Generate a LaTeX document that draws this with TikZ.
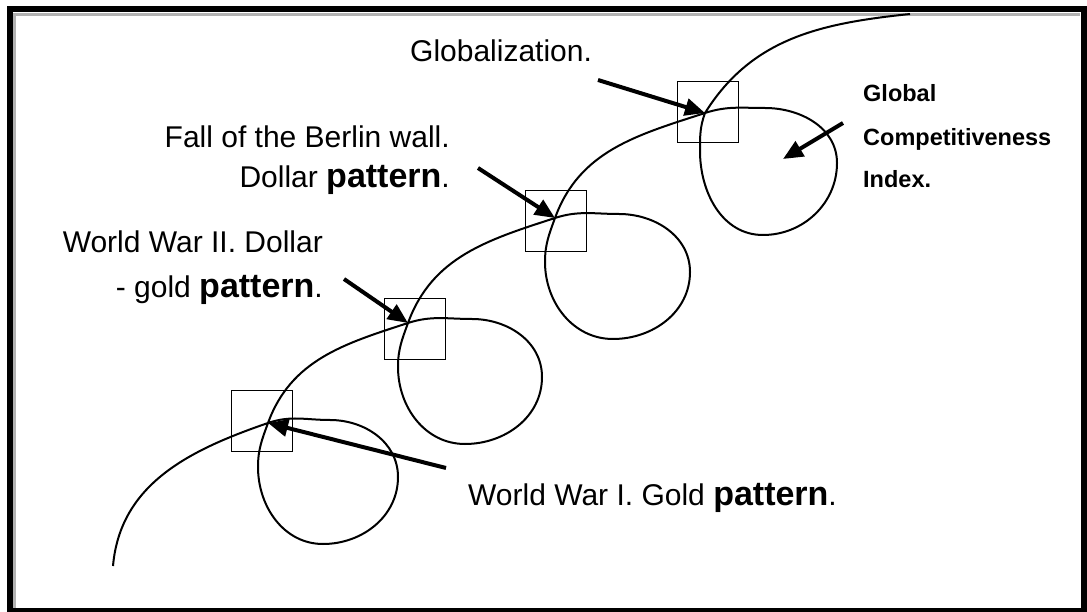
\documentclass[tikz,border=0pt]{standalone}
\usepackage{fontspec}
\setmainfont{Liberation Sans}
\usetikzlibrary{arrows.meta}

\newcommand{\patt}{{\fontsize{34}{40}\selectfont\bfseries pattern}}

\begin{document}
\begin{tikzpicture}[x=1pt,y=1pt]
  \tikzstyle{curve}=[line width=2pt]
  \tikzstyle{window}=[draw,line width=1.5pt,minimum size=61pt,inner sep=0pt]
  \tikzstyle{txt}=[inner sep=0pt,font=\fontsize{30}{36}\selectfont]
  \tikzstyle{index}=[inner sep=0pt,anchor=base west,font=\fontsize{23.5}{28}\selectfont\bfseries]
  \tikzstyle{pointer}=[line width=4pt,-{Triangle[length=20pt,width=17pt]}]
  \useasboundingbox (0,0) rectangle (1087,611);

  % frame
  \draw[line width=6pt] (9.5,601.5) rectangle (1084,0.5);
  \draw[black!30,line width=2.5pt] (14.5,3.5) -- (14.5,596.5) -- (1080,596.5);

  \coordinate (c1) at (268,188);
  \coordinate (c2) at (408,288);
  \coordinate (c3) at (555,393);
  \coordinate (c4) at (705,498);

  \node[window] (w1) at (262,190) {};
  \node[window] (w2) at (415,282) {};
  \node[window] (w3) at (556,390) {};
  \node[window] (w4) at (708,499) {};

  % the spiral
  \draw[curve] (113,45) to[out=85,in=199] (c1)
    to[out=19,in=180] ++(62,3) to[out=0,in=90] ++(68,-57) to[out=-90,in=0] ++(-75,-67)
    to[out=180,in=-90] ++(-65,77) to[out=90,in=250] (c1)
    to[out=70,in=198] (c2)
    to[out=18,in=180] ++(64,4) to[out=0,in=90] ++(70,-58) to[out=-90,in=0] ++(-77,-67)
    to[out=180,in=-90] ++(-67,77) to[out=90,in=250] (c2)
    to[out=70,in=198] (c3)
    to[out=18,in=180] ++(64,4) to[out=0,in=90] ++(71,-58) to[out=-90,in=0] ++(-77,-67)
    to[out=180,in=-90] ++(-68,77) to[out=90,in=250] (c3)
    to[out=70,in=198] (c4)
    to[out=18,in=180] ++(60,5) to[out=0,in=90] ++(72,-55) to[out=-90,in=0] ++(-74,-72)
    to[out=180,in=-90] ++(-63,84) to[out=90,in=250] (c4)
    to[out=58,in=186] (910,597);

  \node[txt,anchor=base west] (glob) at (410,549) {Globalization.};
  \node[txt,anchor=base east] (fall) at (450,463) {Fall of the Berlin wall.};
  \node[txt,anchor=base east] (doll) at (450,423) {Dollar \patt.};
  \node[txt,anchor=base east] (ww2a) at (323,358) {World War II. Dollar};
  \node[txt,anchor=base east] (ww2b) at (323,313) {- gold \patt.};
  \node[txt,anchor=base west] (ww1) at (468,106) {World War I. Gold \patt.};
  \node[index] (gci1) at (863,509) {Global};
  \node[index] (gci2) at (863,465) {Competitiveness};
  \node[index] (gci3) at (863,423) {Index.};

  \coordinate (g0) at (598,531);
  \coordinate (f0) at (478,443);
  \coordinate (d0) at (344,332);
  \coordinate (o0) at (446,143);
  \coordinate (i0) at (843,488);
  \coordinate (i1) at (783,452);

  \draw[pointer] (g0) -- (c4);
  \draw[pointer] (f0) -- (c3);
  \draw[pointer] (d0) -- (c2);
  \draw[pointer] (o0) -- (c1);
  \draw[pointer] (i0) -- (i1);
\end{tikzpicture}
\end{document}
